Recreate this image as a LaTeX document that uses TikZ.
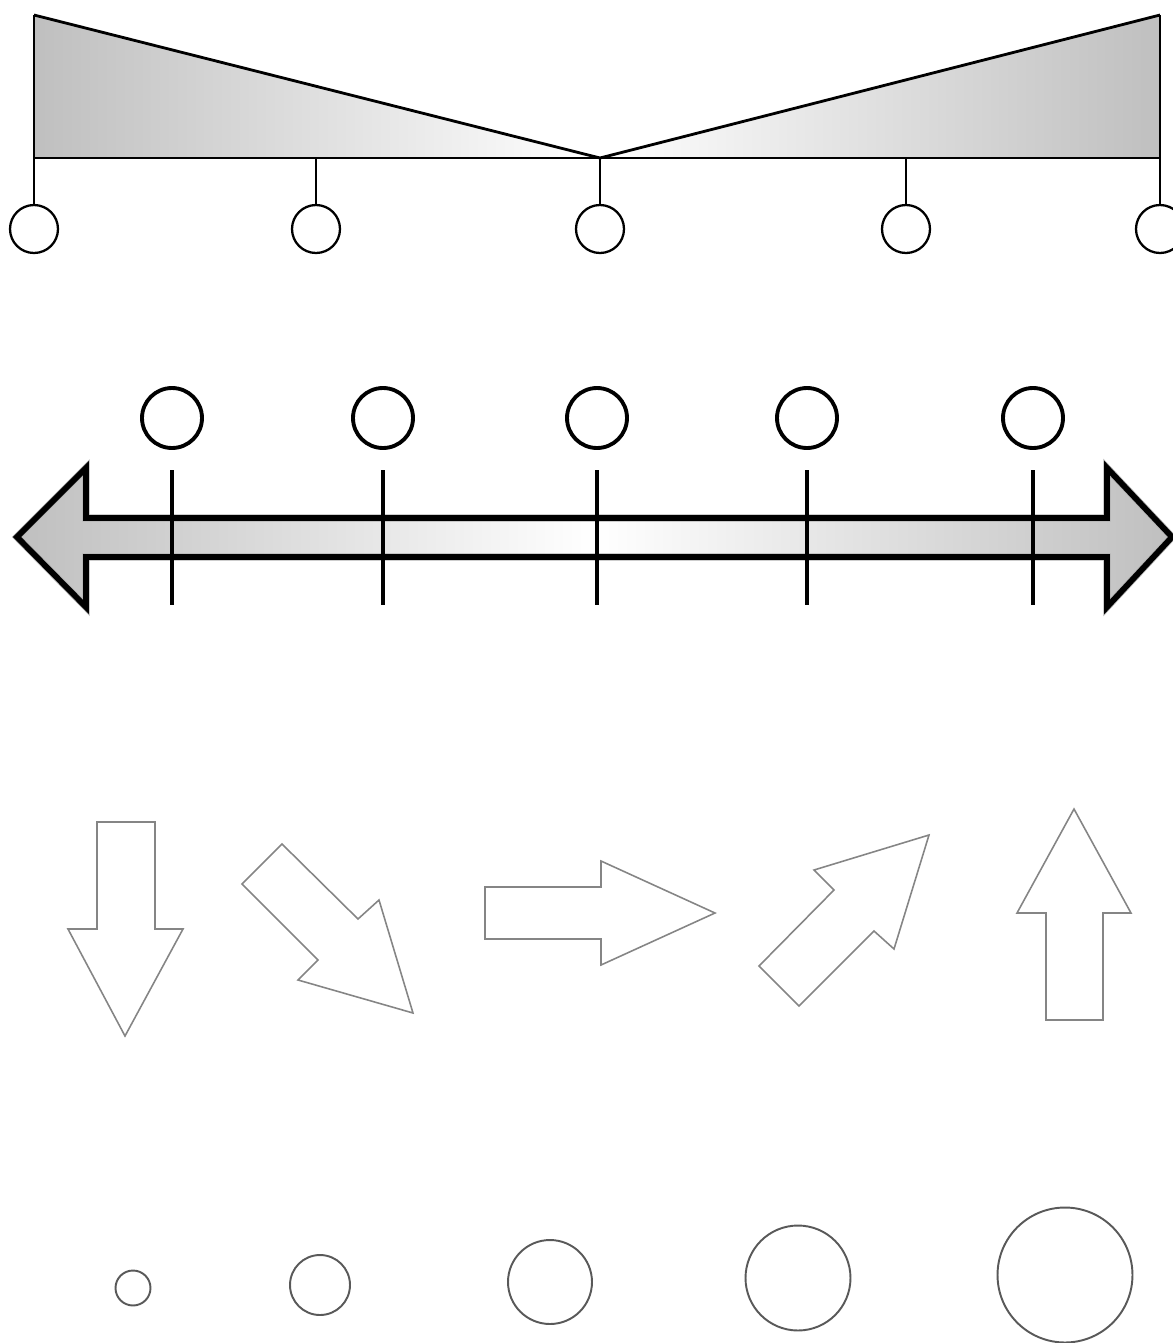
\documentclass[tikz,border=0pt]{standalone}
\begin{document}
\begin{tikzpicture}[x=0.02cm,y=-0.02cm,
  topline/.style={line width=1.6pt,line join=miter},
  topcirc/.style={circle,draw,line width=1.3pt,minimum size=0.96cm,inner sep=0pt},
  bigtick/.style={line width=2.6pt},
  midcirc/.style={circle,draw,line width=2.2pt,minimum size=1.2cm,inner sep=0pt},
  outarrow/.style={draw=black!48,line width=0.9pt,line join=miter},
  ringstyle/.style={circle,draw=black!65,line width=1.1pt,inner sep=0pt}]
\useasboundingbox (0,0) rectangle (1173,1343);

% ---- top: two wedges with ticks and circles
\shade[left color=black!25,right color=black!25,middle color=white]
  (34,15) -- (600,158) -- (1160,15) -- (1160,158) -- (34,158) -- cycle;
\draw[topline] (34,15) -- (600,158) -- (1160,15);
\draw[topline] (34,158) -- (1160,158);
\foreach \i/\x in {1/34,2/316,3/600,4/906,5/1160}{
  \node[topcirc] (t\i) at (\x,229) {};
  \coordinate (tt\i) at (\x,158);
  \draw[topline] (tt\i) -- (t\i.north);
}
\draw[topline] (34,15) -- (tt1);
\draw[topline] (1160,15) -- (tt5);

% ---- middle: double arrow with ticks and circles
\shade[left color=black!25,right color=black!25,middle color=white]
  (17,537) -- (86,468) -- (86,518) -- (1107,518) -- (1107,468) -- (1172,537)
  -- (1107,607) -- (1107,557) -- (86,557) -- (86,607) -- cycle;
\draw[line width=4.2pt,black!30,line join=miter]
  (17,537) -- (86,468) -- (86,518) -- (1107,518) -- (1107,468) -- (1172,537)
  -- (1107,607) -- (1107,557) -- (86,557) -- (86,607) -- cycle;
\draw[line width=3.3pt,line join=miter]
  (17,537) -- (86,468) -- (86,518) -- (1107,518) -- (1107,468) -- (1172,537)
  -- (1107,607) -- (1107,557) -- (86,557) -- (86,607) -- cycle;
\foreach \i/\x in {1/172,2/383,3/597,4/807,5/1033}{
  \node[midcirc] (m\i) at (\x,418) {};
  \coordinate (ma\i) at (\x,470);
  \coordinate (mb\i) at (\x,605);
  \draw[bigtick] (ma\i) -- (mb\i);
}

% ---- outline arrows
\draw[outarrow] (97,822) -- (155,822) -- (155,929) -- (183,929) -- (125,1036)
  -- (68,929) -- (97,929) -- cycle;
\draw[outarrow] (282,844) -- (358,919) -- (379,900) -- (413,1013) -- (298,980)
  -- (318,960) -- (242,884) -- cycle;
\draw[outarrow] (485,887) -- (601,887) -- (601,861) -- (715,913) -- (601,965)
  -- (601,939) -- (485,939) -- cycle;
\draw[outarrow] (759,966) -- (834,890) -- (814,870) -- (929,835) -- (894,949)
  -- (874,931) -- (799,1006) -- cycle;
\draw[outarrow] (1074,809) -- (1131,913) -- (1103,913) -- (1103,1020)
  -- (1046,1020) -- (1046,913) -- (1017,913) -- cycle;

% ---- growing circles
\node[ringstyle,minimum size=0.7cm] (r1) at (133,1288) {};
\node[ringstyle,minimum size=1.2cm] (r2) at (320,1285) {};
\node[ringstyle,minimum size=1.68cm] (r3) at (550,1282) {};
\node[ringstyle,minimum size=2.1cm] (r4) at (798,1278) {};
\node[ringstyle,minimum size=2.7cm] (r5) at (1065,1275) {};
\end{tikzpicture}
\end{document}
